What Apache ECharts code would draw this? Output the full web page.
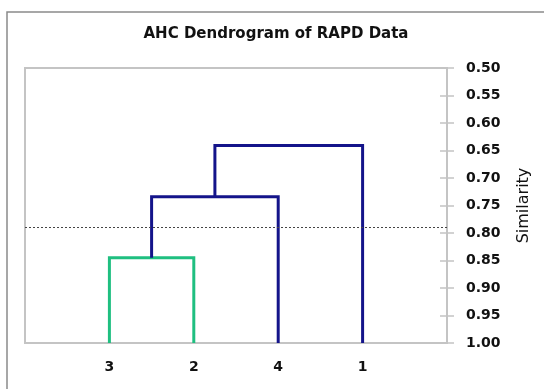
<!DOCTYPE html>
<html>
<head>
<meta charset="utf-8">
<script src="https://cdn.jsdelivr.net/npm/echarts@6/dist/echarts.min.js"></script>
<style>
html,body{margin:0;padding:0;background:#fff;}
#chart{width:544px;height:389px;}
</style>
</head>
<body>
<div id="chart"></div>
<script>
// Leaves in dendrogram order (left to right)
const leaves = ['3', '2', '4', '1'];
const leafSimilarity = 1.0;
// Merge steps: left member, right member, similarity level
const mergeLeft = ['3', 'C1', 'C2'];
const mergeRight = ['2', '4', '1'];
const mergeSimilarity = [0.845, 0.734, 0.641];
const mergeColors = ['#1fbf80', '#14148a', '#14148a'];
// Truncation (cut) level
const cutLevel = 0.788;
// Y axis ticks
const yMin = 0.50, yMax = 1.00, yStep = 0.05;

const nodes = {};
leaves.forEach((l, i) => { nodes[l] = { x: i + 1, y: leafSimilarity }; });
const series = [];
mergeLeft.forEach((lk, k) => {
  const a = nodes[lk], b = nodes[mergeRight[k]], s = mergeSimilarity[k];
  nodes['C' + (k + 1)] = { x: (a.x + b.x) / 2, y: s };
  series.push({
    type: 'line',
    data: [[a.x, a.y], [a.x, s], [b.x, s], [b.x, b.y]],
    symbol: 'none',
    lineStyle: { color: mergeColors[k], width: 3, join: 'miter' },
    z: 3,
    silent: true
  });
});
series.push({
  type: 'line',
  data: [],
  markLine: {
    silent: true,
    symbol: 'none',
    label: { show: false },
    lineStyle: { color: '#444', type: [2, 2], width: 1 },
    data: [{ yAxis: cutLevel }]
  }
});

const chart = echarts.init(document.getElementById('chart'), null, { renderer: 'canvas' });
const labelFont = { fontFamily: 'DejaVu Sans', fontWeight: 'bold', fontSize: 14, color: '#111' };
const gridBox = { left: 25, right: 97, top: 68, bottom: 46 };
chart.setOption({
  animation: false,
  backgroundColor: '#fff',
  title: {
    text: 'AHC Dendrogram of RAPD Data',
    left: 271, top: 22, textAlign: 'center',
    textStyle: { fontFamily: 'DejaVu Sans', fontWeight: 'bold', fontSize: 15, color: '#111' }
  },
  graphic: [{
    type: 'rect',
    shape: { x: 7, y: 12, width: 600, height: 420 },
    style: { fill: 'none', stroke: '#8a8a8a', lineWidth: 1.5 },
    z: -1, silent: true
  }],
  grid: [
    Object.assign({ show: true, borderColor: '#c4c4c4', borderWidth: 2 }, gridBox),
    Object.assign({ show: false }, gridBox)
  ],
  xAxis: [{
    type: 'value', gridIndex: 0, min: 0, max: leaves.length + 1, interval: 1,
    axisLine: { show: false, onZero: false },
    axisTick: { show: false },
    splitLine: { show: false },
    axisLabel: Object.assign({ margin: 17, formatter: v => leaves[v - 1] || '' }, labelFont)
  }, {
    type: 'value', gridIndex: 1, min: 0, max: leaves.length + 1, show: false,
    axisLine: { onZero: false }
  }],
  yAxis: [{
    type: 'value', gridIndex: 0, position: 'right', inverse: true,
    min: yMin, max: yMax, interval: yStep,
    name: 'Similarity', nameLocation: 'middle', nameRotate: 90, nameGap: 69,
    nameTextStyle: { fontFamily: 'DejaVu Sans', fontSize: 16, color: '#111' },
    axisLine: { show: true, onZero: false, lineStyle: { color: '#c4c4c4', width: 2 } },
    axisTick: { show: true, inside: false, length: 7, lineStyle: { color: '#c4c4c4', width: 1.5 } },
    splitLine: { show: false },
    axisLabel: Object.assign({ margin: 19, formatter: v => v.toFixed(2) }, labelFont)
  }, {
    type: 'value', gridIndex: 1, position: 'right', inverse: true,
    min: yMin, max: yMax, interval: yStep,
    axisLine: { show: false, onZero: false },
    axisTick: { show: true, inside: true, length: 7, lineStyle: { color: '#c4c4c4', width: 1.5 } },
    splitLine: { show: false },
    axisLabel: { show: false }
  }],
  series: series
});
</script>
</body>
</html>
